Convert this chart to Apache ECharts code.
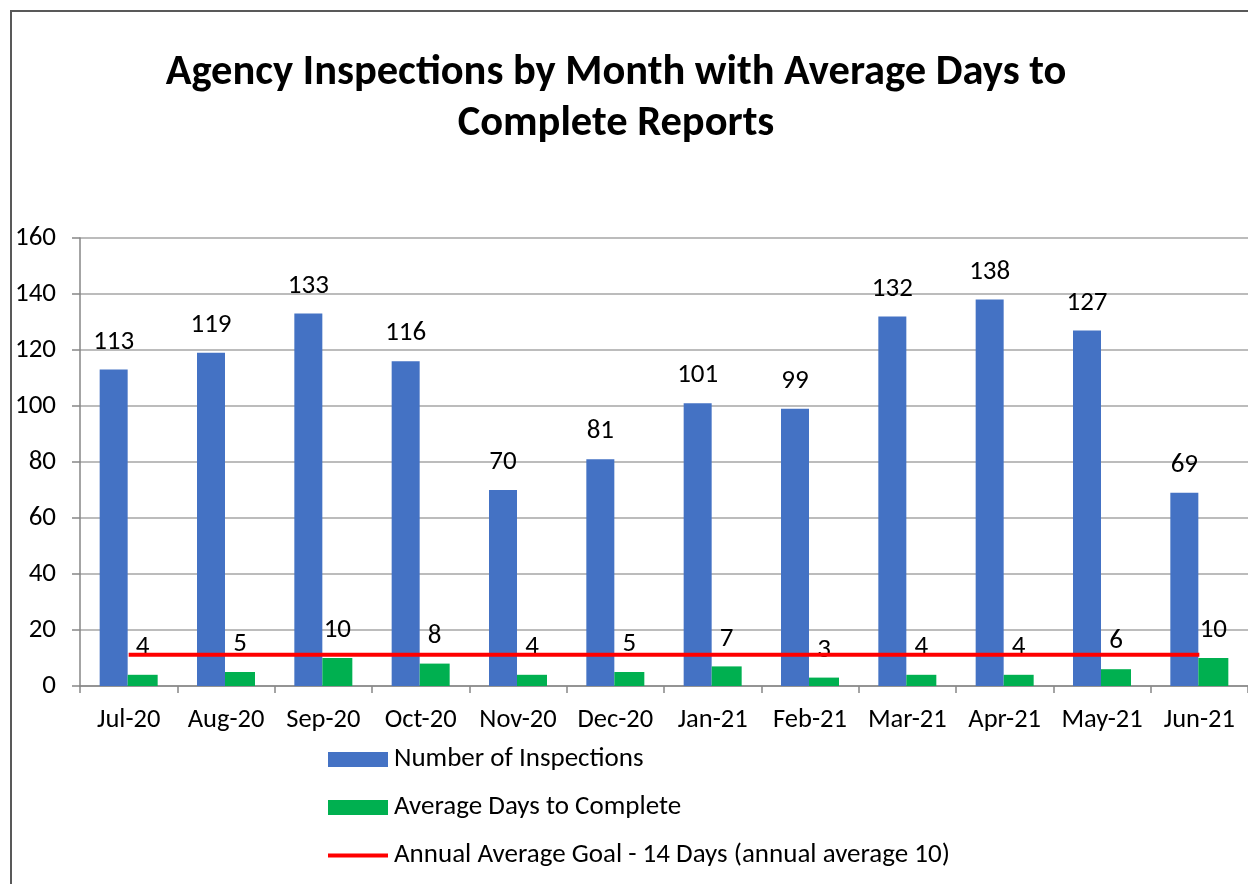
<!DOCTYPE html>
<html>
<head>
<meta charset="utf-8">
<title>Agency Inspections</title>
<script src="https://cdn.jsdelivr.net/npm/echarts@6/dist/echarts.min.js"></script>
<style>
    html, body { margin: 0; padding: 0; background: #fff; }
    #chart { width: 1248px; height: 884px; }
</style>
</head>
<body>
<div id="chart"></div>
<script>
// data
const months = ['Jul-20', 'Aug-20', 'Sep-20', 'Oct-20', 'Nov-20', 'Dec-20',
    'Jan-21', 'Feb-21', 'Mar-21', 'Apr-21', 'May-21', 'Jun-21'];
const inspections = [113, 119, 133, 116, 70, 81, 101, 99, 132, 138, 127, 69];
const avgDays = [4, 5, 10, 8, 4, 5, 7, 3, 4, 4, 6, 10];
const goalLine = [11.2, 11.2, 11.2, 11.2, 11.2, 11.2, 11.2, 11.2, 11.2, 11.2, 11.2, 11.2];
const yTicks = { min: 0, max: 160, interval: 20 };

const font = 'Carlito, "Liberation Sans Narrow", "Noto Sans", sans-serif';
const gridGray = '#a6a6a6';

const myChart = echarts.init(document.getElementById('chart'));

const labelStyle = {
    show: true,
    position: 'top',
    distance: 14,
    fontFamily: font,
    fontSize: 27,
    color: '#000',
};

myChart.setOption({
    animation: false,
    textStyle: { fontFamily: font },
    title: {
        text: 'Agency Inspections by Month with Average Days to\nComplete Reports',
        left: 611,
        top: 43,
        textAlign: 'center',
        textStyle: {
            fontFamily: font,
            fontWeight: 'bold',
            fontSize: 42.5,
            lineHeight: 51,
            color: '#000',
        },
    },
    graphic: [
        {
            type: 'rect',
            shape: { x: 11, y: 11, width: 1400, height: 1000 },
            style: { fill: 'none', stroke: '#595959', lineWidth: 2 },
            silent: true,
        },
    ],
    legend: {
        orient: 'vertical',
        left: 326,
        top: 746,
        padding: 0,
        itemWidth: 60,
        itemHeight: 15,
        itemGap: 21,
        itemStyle: { borderWidth: 0 },
        textStyle: { fontFamily: font, fontSize: 27, color: '#000', padding: [0, 0, 0, 1] },
        data: [
            { name: 'Number of Inspections', icon: 'rect' },
            { name: 'Average Days to Complete', icon: 'rect' },
            {
                name: 'Annual Average Goal - 14 Days (annual average 10)',
                itemStyle: { opacity: 0 },
                lineStyle: { width: 4 },
            },
        ],
    },
    grid: {
        left: 80,
        right: -4,
        top: 238,
        bottom: 198,
        containLabel: false,
    },
    xAxis: {
        type: 'category',
        data: months,
        axisLine: { lineStyle: { color: '#868686', width: 1.5 } },
        axisTick: { show: true, length: 7, lineStyle: { color: '#868686', width: 1.5 } },
        axisLabel: { interval: 0, fontFamily: font, fontSize: 26.5, color: '#000', margin: 21 },
    },
    yAxis: {
        type: 'value',
        min: yTicks.min,
        max: yTicks.max,
        interval: yTicks.interval,
        axisLine: { show: true, lineStyle: { color: '#868686', width: 1.5 } },
        axisTick: { show: true, length: 8, lineStyle: { color: '#868686', width: 1.5 } },
        axisLabel: { fontFamily: font, fontSize: 27, color: '#000', margin: 24 },
        splitLine: { lineStyle: { color: gridGray, width: 1.5 } },
    },
    series: [
        {
            name: 'Number of Inspections',
            type: 'bar',
            data: inspections,
            barWidth: 28,
            barGap: '0%',
            itemStyle: { color: '#4472c4' },
            label: labelStyle,
        },
        {
            name: 'Average Days to Complete',
            type: 'bar',
            data: avgDays,
            barWidth: 30,
            itemStyle: { color: '#00b050' },
            label: labelStyle,
        },
        {
            name: 'Annual Average Goal - 14 Days (annual average 10)',
            type: 'line',
            data: goalLine,
            symbol: 'none',
            itemStyle: { color: '#ff0000' },
            lineStyle: { color: '#ff0000', width: 4 },
            z: 5,
        },
    ],
});

window.addEventListener('resize', () => myChart.resize());
</script>
</body>
</html>
